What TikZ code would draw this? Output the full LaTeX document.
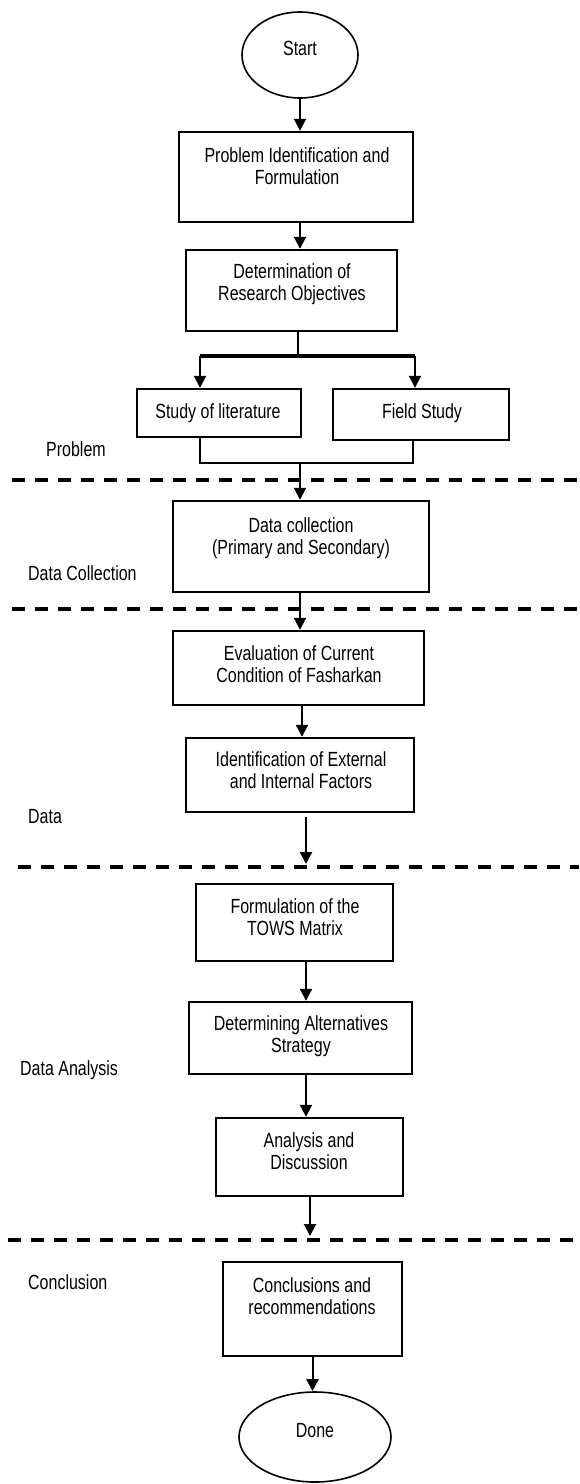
\documentclass[tikz,border=0pt]{standalone}
\usepackage{fontspec}
\setmainfont{Liberation Sans}[FakeStretch=0.78]
\usetikzlibrary{arrows.meta,shapes.geometric}
\begin{document}
\begin{tikzpicture}[x=1pt,y=-1pt,
  box/.style={draw, line width=2.4pt, inner sep=0pt, rectangle},
  oval/.style={draw, ellipse, line width=1.6pt, inner sep=0pt},
  txt/.style={inner sep=0pt, align=center, font=\fontsize{20.5}{22.5}\selectfont},
  lbl/.style={inner sep=0pt, anchor=base west, font=\fontsize{20.5}{22.5}\selectfont},
  conn/.style={line width=2pt},
  arr/.style={conn, -{Triangle[width=12pt,length=12pt]}},
  sepline/.style={line width=4pt, dash pattern=on 13pt off 10pt},
]
\useasboundingbox (0,0) rectangle (579,1484);

% Start
\node[oval, minimum width=116pt, minimum height=86pt] (start) at (300,55) {};
\node[txt, anchor=base] (tstart) at (300,55) {Start};

% Problem identification
\node[box, minimum width=234pt, minimum height=90pt] (b1) at (296,177) {};
\node[txt, anchor=north] (t1) at (297,147) {Problem Identification and\\Formulation};
\draw[arr] (start.south) -- (start.south |- b1.north);

% Research objectives
\node[box, minimum width=211pt, minimum height=81pt] (b2) at (291.5,290.5) {};
\node[txt, anchor=north] (t2) at (292,263) {Determination of\\Research Objectives};
\coordinate (c300) at (300,0);
\draw[arr] (b1.south -| c300) -- (c300 |- b2.north);

% Branch
\coordinate (j) at (298,356);
\coordinate (jl) at (200,356);
\coordinate (jr) at (415,356);
\draw[conn] (j |- b2.south) -- (j);
\draw[line width=3.5pt] (jl) -- (jr);

\node[box, minimum width=164pt, minimum height=48pt] (lit) at (219,413) {};
\node[txt, anchor=base] (tlit) at (218,418) {Study of literature};
\node[box, minimum width=176pt, minimum height=51pt] (field) at (421,414.5) {};
\node[txt, anchor=base] (tfield) at (422,418) {Field Study};
\draw[arr] (jl) -- (jl |- lit.north);
\draw[arr] (jr) -- (jr |- field.north);

% Merge
\coordinate (ml) at (200,463);
\coordinate (mr) at (413,463);
\coordinate (m) at (300,463);
\draw[conn] (ml |- lit.south) -- (ml) -- (mr) -- (mr |- field.south);

% Separator 1
\coordinate (s1a) at (12,480);
\coordinate (s1b) at (579,480);
\draw[sepline] (s1a) -- (s1b);
\node[lbl] (lprob) at (46,456) {Problem};

% Data collection
\node[box, minimum width=256pt, minimum height=91pt] (dc) at (301,546.5) {};
\node[txt, anchor=north] (tdc) at (301,517) {Data collection\\(Primary and Secondary)};
\draw[arr] (m) -- (m |- dc.north);
\node[lbl] (ldc) at (28,580) {Data Collection};

% Separator 2
\coordinate (s2a) at (12,609);
\coordinate (s2b) at (579,609);
\draw[sepline] (s2a) -- (s2b);

% Evaluation
\node[box, minimum width=251pt, minimum height=74pt] (ev) at (298.5,668) {};
\node[txt, anchor=north] (tev) at (299,645) {Evaluation of Current\\Condition of Fasharkan};
\draw[arr] (dc.south -| m) -- (m |- ev.north);

% Identification
\node[box, minimum width=228pt, minimum height=74pt] (id) at (300,775) {};
\node[txt, anchor=north] (tid) at (301,751) {Identification of External\\and Internal Factors};
\coordinate (c302) at (302,0);
\draw[arr] (ev.south -| c302) -- (c302 |- id.north);

\coordinate (a3s) at (306,817);
\coordinate (a3) at (306,864);
\draw[arr] (a3s) -- (a3);
\node[lbl] (ldata) at (28,823) {Data};

% Separator 3
\coordinate (s3a) at (18,867);
\coordinate (s3b) at (579,867);
\draw[sepline] (s3a) -- (s3b);

% TOWS
\node[box, minimum width=197pt, minimum height=77pt] (tows) at (294.5,922.5) {};
\node[txt, anchor=north] (ttows) at (295,898) {Formulation of the\\TOWS Matrix};

% Alternatives
\node[box, minimum width=223pt, minimum height=72pt] (alt) at (300.5,1038) {};
\node[txt, anchor=north] (talt) at (301,1015) {Determining Alternatives\\Strategy};
\draw[arr] (tows.south -| a3) -- (a3 |- alt.north);

% Analysis
\node[box, minimum width=187pt, minimum height=78pt] (an) at (309.5,1157) {};
\node[txt, anchor=north] (tan) at (309,1132) {Analysis and\\Discussion};
\draw[arr] (alt.south -| a3) -- (a3 |- an.north);
\node[lbl] (lda) at (20,1075) {Data Analysis};

\coordinate (a4) at (310,1236);
\draw[arr] (an.south -| a4) -- (a4);

% Separator 4
\coordinate (s4a) at (8,1240);
\coordinate (s4b) at (579,1240);
\draw[sepline] (s4a) -- (s4b);

% Conclusions
\node[box, minimum width=179pt, minimum height=94pt] (con) at (312.5,1309) {};
\node[txt, anchor=north] (tcon) at (312,1277) {Conclusions and\\recommendations};
\node[lbl] (lcon) at (28,1289) {Conclusion};

% Done
\node[oval, minimum width=152pt, minimum height=90pt] (done) at (315,1437) {};
\node[txt, anchor=base] (tdone) at (315,1437) {Done};
\draw[arr] (con.south) -- (con.south |- done.north);
\end{tikzpicture}
\end{document}
